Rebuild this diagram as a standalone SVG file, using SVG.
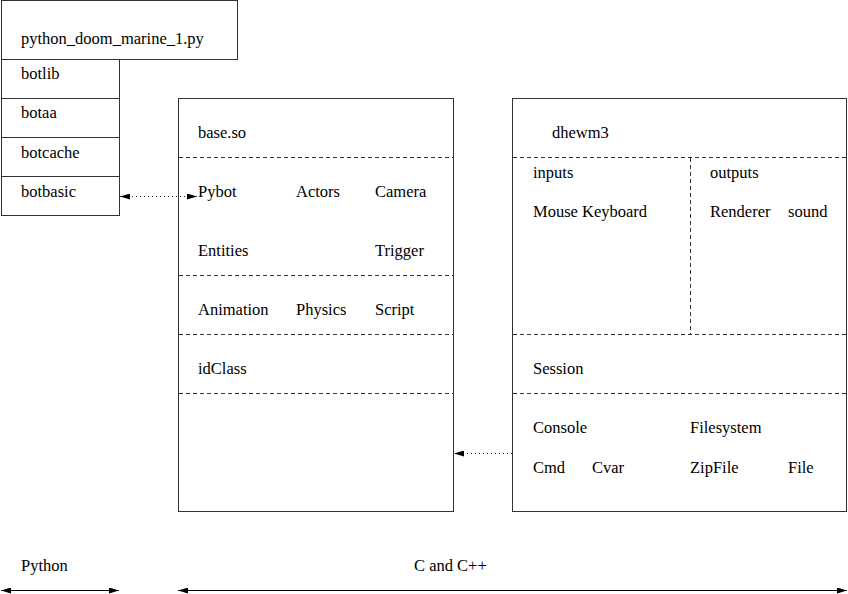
<svg xmlns="http://www.w3.org/2000/svg" width="848" height="594" viewBox="0 0 848 594" font-family="Liberation Serif, Times New Roman, serif" font-size="16.5">
<style>
text{fill:#000}
.box{fill:#fff;stroke:#333;stroke-width:1}
.dash{stroke:#333;stroke-width:1;stroke-dasharray:4,3;fill:none}
.dot{stroke:#333;stroke-width:1;stroke-dasharray:1,3;fill:none}
.solid{stroke:#000;stroke-width:1;fill:none}
</style>
<defs>
<marker id="ah" viewBox="0 0 10 6" refX="10" refY="3" markerWidth="10" markerHeight="6" markerUnits="userSpaceOnUse" orient="auto-start-reverse">
<path d="M0,0 L10,3 L0,6 Z" fill="#000"/>
</marker>
</defs>
<rect width="848" height="594" fill="#fff"/>
<g id="python_script">
<rect class="box" x="1.5" y="0.5" width="236" height="59"/>
<text x="21" y="44">python_doom_marine_1.py</text>
</g>
<g id="botlib">
<rect class="box" x="1.5" y="59.5" width="118" height="39"/>
<text x="21" y="79">botlib</text>
</g>
<g id="botaa">
<rect class="box" x="1.5" y="98.5" width="118" height="39"/>
<text x="21" y="118">botaa</text>
</g>
<g id="botcache">
<rect class="box" x="1.5" y="137.5" width="118" height="39"/>
<text x="21" y="158">botcache</text>
</g>
<g id="botbasic">
<rect class="box" x="1.5" y="176.5" width="118" height="39"/>
<text x="21" y="197">botbasic</text>
</g>
<g id="base_so">
<rect class="box" x="178.5" y="98.5" width="275" height="413"/>
<line class="dash" x1="179" y1="157.5" x2="453" y2="157.5"/>
<line class="dash" x1="179" y1="275.5" x2="453" y2="275.5"/>
<line class="dash" x1="179" y1="334.5" x2="453" y2="334.5"/>
<line class="dash" x1="179" y1="393.5" x2="453" y2="393.5"/>
<text x="198" y="138">base.so</text>
<text x="198" y="197">Pybot</text>
<text x="296" y="197">Actors</text>
<text x="375" y="197">Camera</text>
<text x="198" y="256">Entities</text>
<text x="375" y="256">Trigger</text>
<text x="198" y="315">Animation</text>
<text x="296" y="315">Physics</text>
<text x="375" y="315">Script</text>
<text x="198" y="374">idClass</text>
</g>
<g id="dhewm3">
<rect class="box" x="512.5" y="98.5" width="334" height="413"/>
<line class="dash" x1="513" y1="157.5" x2="846" y2="157.5"/>
<line class="dash" x1="690.5" y1="158" x2="690.5" y2="334"/>
<line class="dash" x1="513" y1="334.5" x2="846" y2="334.5"/>
<line class="dash" x1="513" y1="393.5" x2="846" y2="393.5"/>
<text x="552" y="138">dhewm3</text>
<text x="533" y="178">inputs</text>
<text x="533" y="217">Mouse Keyboard</text>
<text x="710" y="178">outputs</text>
<text x="710" y="217">Renderer</text>
<text x="788" y="217">sound</text>
<text x="533" y="374">Session</text>
<text x="533" y="433">Console</text>
<text x="690" y="433">Filesystem</text>
<text x="533" y="473">Cmd</text>
<text x="592" y="473">Cvar</text>
<text x="690" y="473">ZipFile</text>
<text x="788" y="473">File</text>
</g>
<g id="labels">
<text x="21" y="571">Python</text>
<text x="414" y="571">C and C++</text>
</g>
<g id="connectors">
<line class="dot" x1="120" y1="196.5" x2="197" y2="196.5" marker-start="url(#ah)" marker-end="url(#ah)"/>
<line class="dot" x1="512" y1="453.5" x2="454" y2="453.5" marker-end="url(#ah)"/>
<line class="solid" x1="1" y1="590.5" x2="119" y2="590.5" marker-start="url(#ah)" marker-end="url(#ah)"/>
<line class="solid" x1="178" y1="590.5" x2="847" y2="590.5" marker-start="url(#ah)" marker-end="url(#ah)"/>
</g>
</svg>
